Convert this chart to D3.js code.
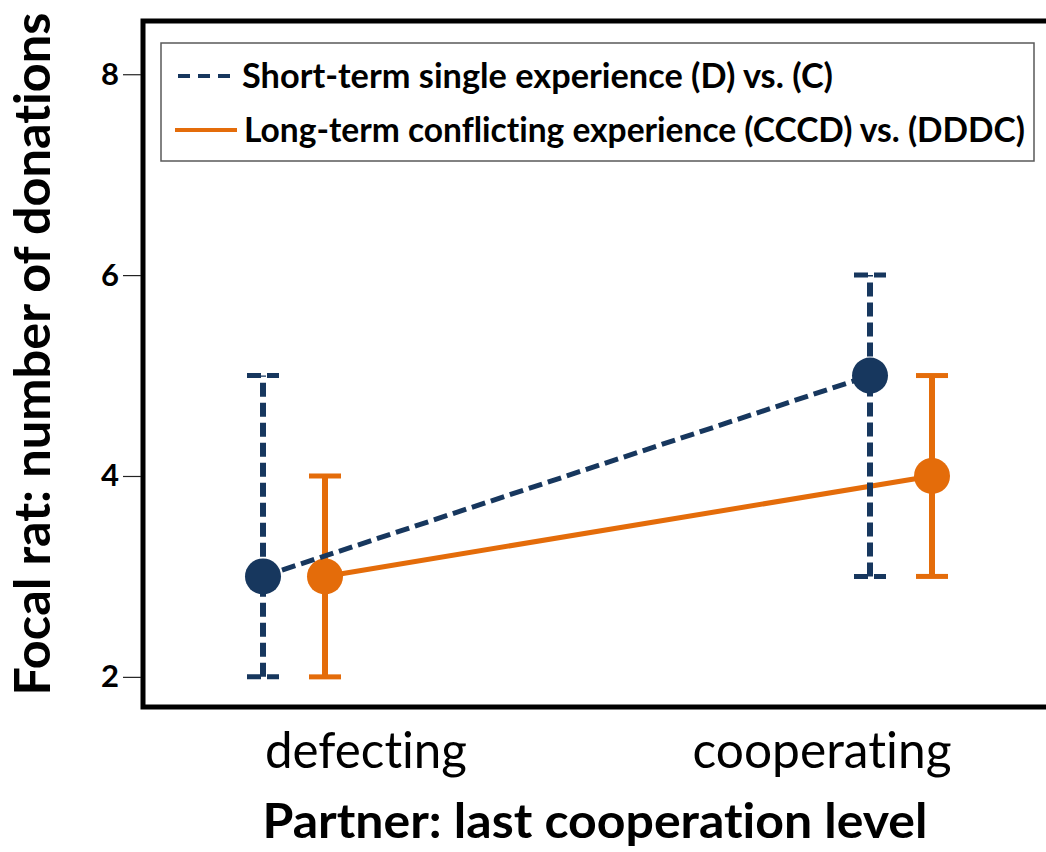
<!DOCTYPE html>
<html>
<head>
<meta charset="utf-8">
<script src="https://cdn.jsdelivr.net/npm/d3@7"></script>
<style>
  html, body { margin: 0; padding: 0; background: #fff; }
  text { font-family: Lato, "Open Sans", sans-serif; font-variant-ligatures: none; }
</style>
</head>
<body>
<script>
'use strict';

// chart values
const categories = ["defecting", "cooperating"];
const seriesNames = [
  "Short-term single experience (D) vs. (C)",
  "Long-term conflicting experience (CCCD) vs. (DDDC)"
];
const seriesColors = ["#17375E", "#E46C0A"];
const shortMean = [3, 5];
const shortLow = [2, 3];
const shortHigh = [5, 6];
const longMean = [3, 4];
const longLow = [2, 3];
const longHigh = [4, 5];
const yTicks = [2, 4, 6, 8];

const width = 1046, height = 852;

let svgContainer = d3.select('body')
  .append('svg')
  .attr('width', width)
  .attr('height', height);

// scales
let yScale = d3.scaleLinear().domain([1.7, 8.53]).range([707, 21]);
let xScale = d3.scalePoint().domain(categories).range([294, 901]);
let offset = d3.scalePoint().domain([0, 1]).range([-31, 31]);
// category labels sit a little inside the group centres
let labelScale = d3.scalePoint().domain(categories).range([366, 822]);

// frame (right edge runs off the picture)
svgContainer.append('rect')
  .attr('x', 143)
  .attr('y', yScale(8.53))
  .attr('width', 950)
  .attr('height', yScale(1.7) - yScale(8.53))
  .attr('fill', 'none')
  .attr('stroke', '#000')
  .attr('stroke-width', 5);

// y axis ticks and labels
let yAxis = d3.axisLeft(yScale)
  .tickValues(yTicks)
  .tickFormat(d3.format('d'))
  .tickSize(18)
  .tickPadding(4);
let gy = svgContainer.append('g')
  .attr('transform', 'translate(141, 0)')
  .call(yAxis);
gy.select('.domain').remove();
gy.selectAll('.tick line').attr('stroke', '#222').attr('stroke-width', 1.2);
gy.selectAll('.tick text')
  .style('font-family', 'Lato, sans-serif')
  .style('font-size', '31px')
  .style('font-weight', 'bold')
  .attr('fill', '#000');

// series table built from the arrays
let series = [
  { name: seriesNames[0], color: seriesColors[0], mean: shortMean, low: shortLow, high: shortHigh, dash: '14,6' },
  { name: seriesNames[1], color: seriesColors[1], mean: longMean, low: longLow, high: longHigh, dash: null }
];

function px(i, c) { return xScale(c) + offset(i); }

// draw orange first so the dark blue sits on top like the original
[1, 0].forEach((i) => {
  let s = series[i];
  let g = svgContainer.append('g');

  let line = d3.line()
    .x((d, k) => px(i, categories[k]))
    .y((d) => yScale(d));

  g.append('path')
    .datum(s.mean)
    .attr('d', line)
    .attr('fill', 'none')
    .attr('stroke', s.color)
    .attr('stroke-width', 5)
    .attr('stroke-dasharray', s.dash);

  categories.forEach((c, k) => {
    let x = px(i, c);
    // vertical error bar
    g.append('line')
      .attr('x1', x).attr('x2', x)
      .attr('y1', yScale(s.low[k])).attr('y2', yScale(s.high[k]))
      .attr('stroke', s.color)
      .attr('stroke-width', 6)
      .attr('stroke-dasharray', s.dash);
    // caps
    [s.low[k], s.high[k]].forEach((v) => {
      g.append('line')
        .attr('x1', x - 16).attr('x2', x + 16)
        .attr('y1', yScale(v)).attr('y2', yScale(v))
        .attr('stroke', s.color)
        .attr('stroke-width', 5)
        .attr('stroke-dasharray', s.dash);
    });
    // mean point
    g.append('circle')
      .attr('cx', x)
      .attr('cy', yScale(s.mean[k]))
      .attr('r', 18)
      .attr('fill', s.color);
  });
});

// legend
let legend = svgContainer.append('g');
legend.append('rect')
  .attr('x', 161).attr('y', 43)
  .attr('width', 873).attr('height', 118)
  .attr('fill', '#fff')
  .attr('stroke', '#595959')
  .attr('stroke-width', 1.5);

let legendRows = [
  { y: 76, x1: 178, x2: 230, dash: '12,8', tx: 242, len: 591 },
  { y: 130, x1: 175, x2: 237, dash: null, tx: 244, len: 781 }
];
legendRows.forEach((r, i) => {
  legend.append('line')
    .attr('x1', r.x1).attr('x2', r.x2)
    .attr('y1', r.y).attr('y2', r.y)
    .attr('stroke', seriesColors[i])
    .attr('stroke-width', 4)
    .attr('stroke-dasharray', r.dash);
  legend.append('text')
    .attr('x', r.tx)
    .attr('y', r.y + 12)
    .attr('textLength', r.len)
    .attr('lengthAdjust', 'spacingAndGlyphs')
    .style('font-size', '34px')
    .style('font-weight', 'bold')
    .text(seriesNames[i]);
});

// category labels
svgContainer.selectAll('.cat')
  .data(categories)
  .enter()
  .append('text')
    .attr('class', 'cat')
    .attr('x', (d) => labelScale(d))
    .attr('y', 768)
    .attr('text-anchor', 'middle')
    .attr('textLength', (d, i) => [202, 259][i])
    .attr('lengthAdjust', 'spacingAndGlyphs')
    .style('font-size', '50px')
    .text((d) => d);

// axis titles
svgContainer.append('text')
  .attr('x', 595)
  .attr('y', 838)
  .attr('text-anchor', 'middle')
  .attr('textLength', 665)
  .attr('lengthAdjust', 'spacingAndGlyphs')
  .style('font-size', '48px')
  .style('font-weight', 'bold')
  .text('Partner: last cooperation level');

svgContainer.append('text')
  .attr('transform', 'translate(50, 354)rotate(-90)')
  .attr('text-anchor', 'middle')
  .attr('textLength', 683)
  .attr('lengthAdjust', 'spacingAndGlyphs')
  .style('font-size', '50px')
  .style('font-weight', 'bold')
  .text('Focal rat: number of donations');
</script>
</body>
</html>
